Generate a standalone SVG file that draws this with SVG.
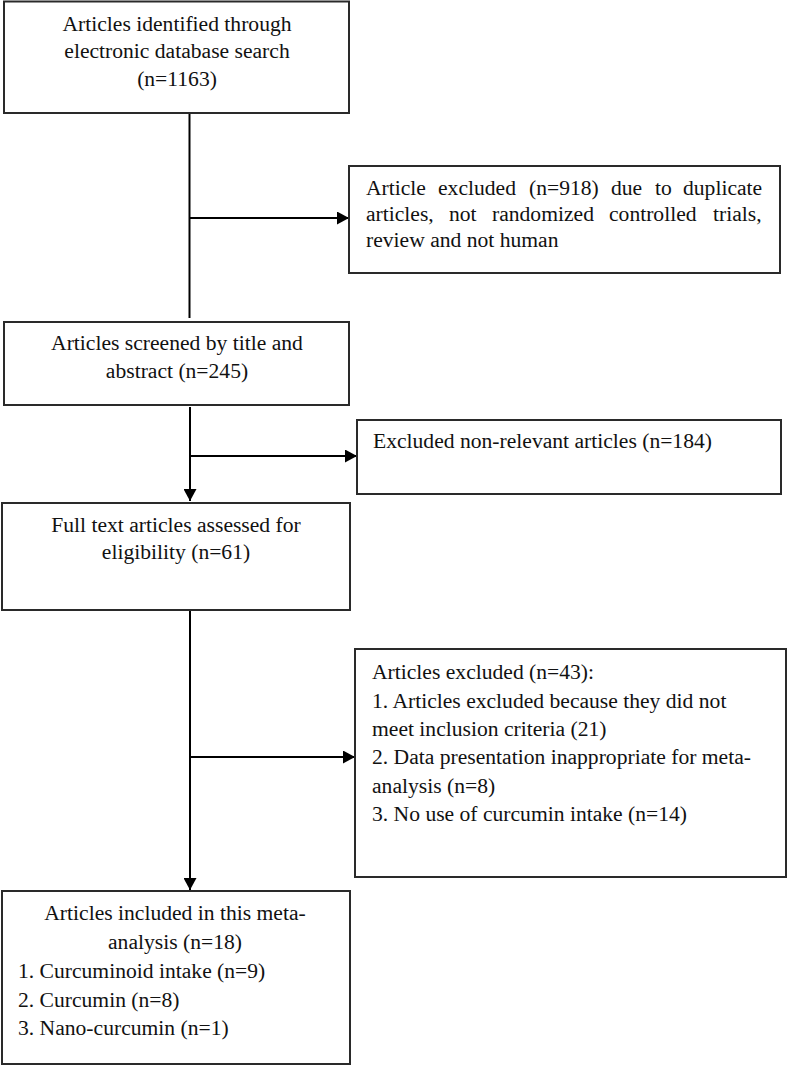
<svg xmlns="http://www.w3.org/2000/svg" width="787" height="1066" viewBox="0 0 787 1066">
<style>
.box{fill:#fff;stroke:#2a2a2a;stroke-width:2}
.t{font-family:'Liberation Serif','DejaVu Serif',serif;font-size:21.6px;fill:#111}
.c{text-anchor:middle}
.ln{stroke:#000;stroke-width:2;fill:none}
</style>
<defs>
<marker id="ah" markerWidth="12" markerHeight="13" refX="12" refY="6.5" orient="auto" markerUnits="userSpaceOnUse">
<path d="M0,0 L12,6.5 L0,13 Z" fill="#000"/>
</marker>
</defs>
<rect width="787" height="1066" fill="#fff"/>
<g id="connectors">
<line class="ln" x1="189.5" y1="113" x2="189.5" y2="267" stroke-width="3"/>
<line class="ln" x1="189.5" y1="267" x2="189.5" y2="318" stroke-width="1.3"/>
<line class="ln" x1="189.5" y1="218" x2="349" y2="218" marker-end="url(#ah)"/>
<line class="ln" x1="190" y1="407" x2="190" y2="501" marker-end="url(#ah)"/>
<line class="ln" x1="190" y1="456" x2="357" y2="456" marker-end="url(#ah)"/>
<line class="ln" x1="190" y1="611" x2="190" y2="890" marker-end="url(#ah)"/>
<line class="ln" x1="190" y1="757" x2="355" y2="757" marker-end="url(#ah)"/>
</g>
<g id="n1">
<rect class="box" x="4" y="1.5" width="345" height="111.5"/>
<text class="t c" x="177" y="31" font-family="Liberation Serif">Articles identified through</text>
<text class="t c" x="177" y="58">electronic database search</text>
<text class="t c" x="177" y="86">(n=1163)</text>
</g>
<g id="n2">
<rect class="box" x="349" y="166" width="431" height="107"/>
<text class="t" y="195"><tspan x="366">Article</tspan><tspan x="438">excluded</tspan><tspan x="529">(n=918)</tspan><tspan x="611">due</tspan><tspan x="655">to</tspan><tspan x="683">duplicate</tspan></text>
<text class="t" y="221"><tspan x="366">articles,</tspan><tspan x="449">not</tspan><tspan x="492">randomized</tspan><tspan x="609">controlled</tspan><tspan x="713">trials,</tspan></text>
<text class="t" x="366" y="247">review and not human</text>
</g>
<g id="n3">
<rect class="box" x="4" y="322" width="345" height="83"/>
<text class="t c" x="177" y="350">Articles screened by title and</text>
<text class="t c" x="177" y="378">abstract (n=245)</text>
</g>
<g id="n4">
<rect class="box" x="357" y="420" width="424" height="74"/>
<text class="t" x="373" y="448">Excluded non-relevant articles (n=184)</text>
</g>
<g id="n5">
<rect class="box" x="2" y="503" width="348" height="107"/>
<text class="t c" x="176" y="532">Full text articles assessed for</text>
<text class="t c" x="176" y="559">eligibility (n=61)</text>
</g>
<g id="n6">
<rect class="box" x="355" y="649" width="431" height="228"/>
<text class="t" x="372" y="679">Articles excluded (n=43):</text>
<text class="t" x="372" y="708">1. Articles excluded because they did not</text>
<text class="t" x="372" y="736">meet inclusion criteria (21)</text>
<text class="t" x="372" y="764">2. Data presentation inappropriate for meta-</text>
<text class="t" x="372" y="793">analysis (n=8)</text>
<text class="t" x="372" y="821">3. No use of curcumin intake (n=14)</text>
</g>
<g id="n7">
<rect class="box" x="2" y="891" width="348" height="173"/>
<text class="t c" x="175" y="920">Articles included in this meta-</text>
<text class="t c" x="175" y="949">analysis (n=18)</text>
<text class="t" x="18" y="978">1. Curcuminoid intake (n=9)</text>
<text class="t" x="18" y="1007">2. Curcumin (n=8)</text>
<text class="t" x="18" y="1035">3. Nano-curcumin (n=1)</text>
</g>
</svg>
